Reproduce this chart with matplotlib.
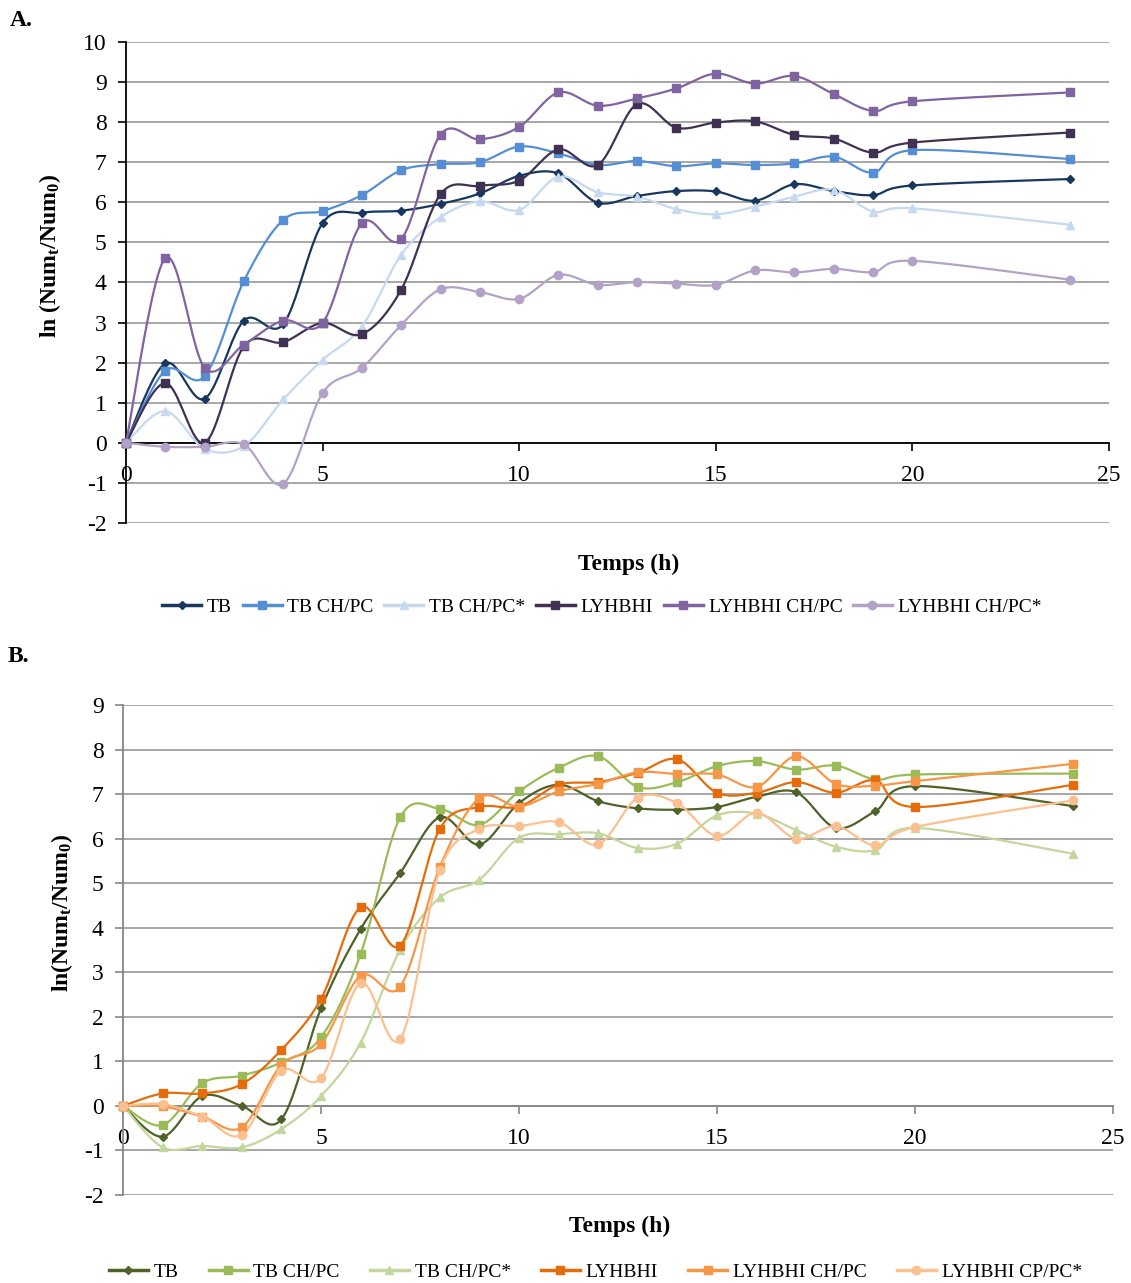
import numpy as np
import matplotlib
matplotlib.use('Agg')
import matplotlib.pyplot as plt

plt.rcParams['font.family'] = ['Liberation Serif', 'DejaVu Serif']
plt.rcParams['mathtext.default'] = 'regular'
plt.rcParams['axes.unicode_minus'] = False

# ===============================
# data
# ===============================
hours = [0, 1, 2, 3, 4, 5, 6, 7, 8, 9, 10, 11, 12, 13, 14, 15, 16, 17, 18, 19, 20, 24]

# panel A
a_tb = [0, 1.98, 1.10, 3.05, 2.96, 5.48, 5.74, 5.79, 5.96, 6.22, 6.66, 6.72, 5.99, 6.16, 6.28, 6.27, 6.04, 6.45, 6.28, 6.18, 6.42, 6.58]
a_tb_chpc = [0, 1.80, 1.66, 4.04, 5.56, 5.78, 6.18, 6.80, 6.95, 7.00, 7.39, 7.22, 6.93, 7.03, 6.90, 6.97, 6.93, 6.97, 7.14, 6.74, 7.30, 7.08]
a_tb_chpc_s = [0, 0.79, -0.15, -0.08, 1.08, 2.07, 2.90, 4.69, 5.63, 6.02, 5.81, 6.64, 6.25, 6.14, 5.83, 5.70, 5.89, 6.14, 6.31, 5.77, 5.85, 5.44]
a_ly = [0, 1.49, 0.0, 2.41, 2.51, 2.99, 2.71, 3.82, 6.20, 6.41, 6.54, 7.32, 6.93, 8.45, 7.86, 7.99, 8.02, 7.68, 7.59, 7.24, 7.49, 7.74]
a_ly_chpc = [0, 4.61, 1.87, 2.45, 3.05, 2.99, 5.48, 5.08, 7.69, 7.57, 7.88, 8.74, 8.41, 8.59, 8.84, 9.21, 8.96, 9.15, 8.70, 8.28, 8.52, 8.74]
a_ly_chpc_s = [0, -0.10, -0.10, -0.04, -1.02, 1.24, 1.87, 2.94, 3.83, 3.76, 3.59, 4.19, 3.94, 4.01, 3.97, 3.94, 4.30, 4.25, 4.34, 4.26, 4.54, 4.07]

# panel B
b_tb = [0, -0.69, 0.22, 0.0, -0.30, 2.19, 3.97, 5.23, 6.48, 5.87, 6.80, 7.21, 6.84, 6.68, 6.65, 6.71, 6.94, 7.04, 6.24, 6.62, 7.18, 6.73]
b_tb_chpc = [0, -0.43, 0.51, 0.68, 0.98, 1.54, 3.41, 6.48, 6.67, 6.31, 7.06, 7.59, 7.85, 7.16, 7.27, 7.63, 7.74, 7.55, 7.64, 7.33, 7.44, 7.46]
b_tb_chpc_s = [0, -0.93, -0.90, -0.93, -0.52, 0.22, 1.42, 3.51, 4.68, 5.08, 6.02, 6.10, 6.12, 5.79, 5.89, 6.52, 6.56, 6.19, 5.82, 5.74, 6.24, 5.66]
b_ly = [0, 0.28, 0.28, 0.49, 1.26, 2.40, 4.46, 3.60, 6.22, 6.71, 6.72, 7.21, 7.27, 7.48, 7.78, 7.03, 7.03, 7.27, 7.03, 7.31, 6.71, 7.21]
b_ly_chpc = [0, -0.01, -0.24, -0.48, 0.92, 1.39, 2.92, 2.68, 5.36, 6.91, 6.72, 7.06, 7.23, 7.49, 7.45, 7.44, 7.16, 7.85, 7.23, 7.19, 7.29, 7.68]
b_ly_cppc_s = [0, 0.04, -0.24, -0.65, 0.79, 0.62, 2.76, 1.50, 5.30, 6.22, 6.28, 6.37, 5.87, 6.92, 6.79, 6.06, 6.58, 6.00, 6.28, 5.85, 6.26, 6.86]

labels_a = ['TB', 'TB CH/PC', 'TB CH/PC*', 'LYHBHI', 'LYHBHI CH/PC', 'LYHBHI CH/PC*']
labels_b = ['TB', 'TB CH/PC', 'TB CH/PC*', 'LYHBHI', 'LYHBHI CH/PC', 'LYHBHI CP/PC*']

colors_a = ['#17375E', '#558ED5', '#C6D9F1', '#403152', '#8064A2', '#B3A2C7']
colors_b = ['#4F6228', '#9BBB59', '#C3D69B', '#E46C0A', '#F79646', '#FAC090']
markers = ['D', 's', '^', 's', 's', 'o']
msizes = [4.5, 6, 6, 6, 6, 6]


# Excel-style smoothed line (Catmull-Rom bezier through the points)
def smooth(x, y, n=24):
    x = np.asarray(x, float)
    y = np.asarray(y, float)
    px = np.concatenate([[x[0]], x, [x[-1]]])
    py = np.concatenate([[y[0]], y, [y[-1]]])
    t = np.linspace(0, 1, n)[:, None]
    xs, ys = [], []
    for i in range(len(x) - 1):
        p0 = np.array([px[i], py[i]])
        p1 = np.array([px[i + 1], py[i + 1]])
        p2 = np.array([px[i + 2], py[i + 2]])
        p3 = np.array([px[i + 3], py[i + 3]])
        c1 = p1 + (p2 - p0) / 6
        c2 = p2 - (p3 - p1) / 6
        b = ((1 - t) ** 3) * p1 + 3 * ((1 - t) ** 2) * t * c1 + 3 * (1 - t) * t ** 2 * c2 + t ** 3 * p2
        xs.append(b[:, 0])
        ys.append(b[:, 1])
    return np.concatenate(xs), np.concatenate(ys)


def draw_panel(ax, series, labels, colors, ymin, ymax, axis_col, ylabel,
               ylab_pos, xlab_pos, leg_pos, colspace):
    for y, lab, c, m, ms in zip(series, labels, colors, markers, msizes):
        sx, sy = smooth(hours, y)
        ax.plot(sx, sy, color=c, lw=1.6, zorder=3, clip_on=False)
        ax.plot(hours, y, linestyle='none', marker=m, ms=ms, color=c, zorder=4, clip_on=False)
        ax.plot([], [], color=c, lw=2.5, marker=m, ms=ms, label=lab)

    ax.set_xlim(0, 25)
    ax.set_ylim(ymin, ymax)
    ax.set_xticks(range(0, 26, 5))
    ax.set_yticks(range(ymin, ymax + 1))
    for s in ['top', 'right']:
        ax.spines[s].set_visible(False)
    ax.spines['bottom'].set_position(('data', 0))
    ax.spines['bottom'].set_color(axis_col)
    ax.spines['left'].set_color(axis_col)
    ax.spines['bottom'].set_linewidth(1.3)
    ax.spines['left'].set_linewidth(1.3)
    ax.spines['bottom'].set_zorder(2.5)
    ax.yaxis.grid(True, color='#A0A0A0', lw=1.3)
    ax.set_axisbelow(True)
    ax.tick_params(axis='x', direction='out', length=6, width=1.2, color=axis_col, pad=10, labelsize=17)
    ax.tick_params(axis='y', direction='out', length=6, width=1.2, color=axis_col, pad=8, labelsize=17)

    ax.text(ylab_pos[0], ylab_pos[1], ylabel, transform=ax.transAxes, rotation=90,
            ha='center', va='center', fontsize=17, fontweight='bold')
    ax.text(xlab_pos[0], xlab_pos[1], 'Temps (h)', transform=ax.transAxes,
            ha='center', va='center', fontsize=17, fontweight='bold')
    ax.legend(loc='center', bbox_to_anchor=leg_pos, ncol=6, frameon=False, fontsize=14,
              handlelength=2.0, handletextpad=0.3, columnspacing=colspace, numpoints=1)


fig = plt.figure(figsize=(11.31, 12.83), dpi=100)
ax_a = fig.add_axes([0.1114, 0.5924, 0.8691, 0.3749])
ax_b = fig.add_axes([0.1088, 0.0686, 0.8753, 0.3819])

draw_panel(ax_a, [a_tb, a_tb_chpc, a_tb_chpc_s, a_ly, a_ly_chpc, a_ly_chpc_s],
           labels_a, colors_a, -2, 10, 'black', 'ln (Num$_{t}$/Num$_{0}$)',
           (-0.077, 0.555), (0.511, -0.087), (0.484, -0.175), 0.55)
draw_panel(ax_b, [b_tb, b_tb_chpc, b_tb_chpc_s, b_ly, b_ly_chpc, b_ly_cppc_s],
           labels_b, colors_b, -2, 9, '#868686', 'ln(Num$_{t}$/Num$_{0}$)',
           (-0.062, 0.576), (0.502, -0.065), (0.477, -0.157), 1.55)

fig.text(0.009, 0.984, 'A.', fontsize=17, fontweight='bold', ha='left', va='center')
fig.text(0.007, 0.488, 'B.', fontsize=17, fontweight='bold', ha='left', va='center')

plt.savefig('out.png', dpi=100)
